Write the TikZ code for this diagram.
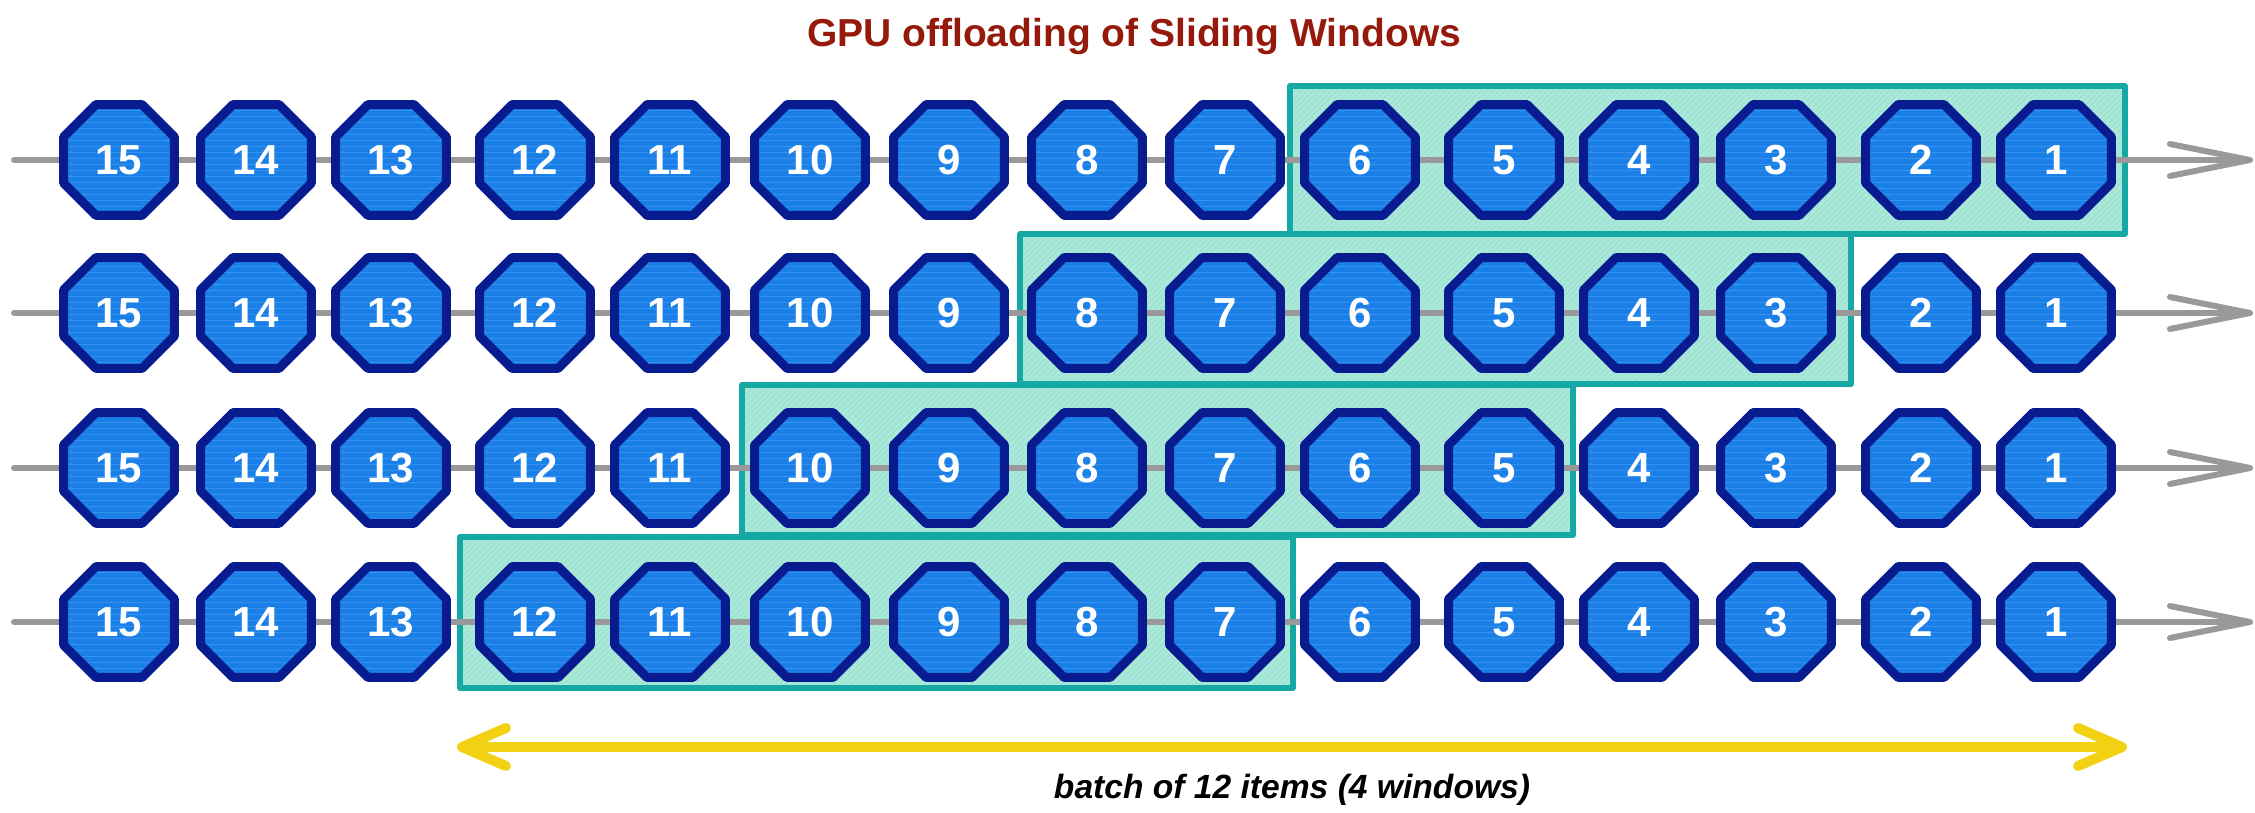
\documentclass[tikz,border=0pt]{standalone}
\usepackage{fontspec}
\setmainfont{Liberation Sans}
\usetikzlibrary{shapes.geometric,arrows.meta,patterns}
\definecolor{octfill}{HTML}{1A80E8}
\definecolor{octstripe}{HTML}{3690EE}
\definecolor{octline}{HTML}{081C8F}
\definecolor{boxfill}{HTML}{A0E4D4}
\definecolor{boxstripe}{HTML}{B9ECE0}
\definecolor{boxline}{HTML}{16A8A5}
\definecolor{axisgray}{HTML}{999999}
\definecolor{titlered}{HTML}{951A0C}
\definecolor{gold}{HTML}{F2D012}
\begin{document}
\begin{tikzpicture}[x=0.5pt,y=-0.5pt,
  item/.style={regular polygon, regular polygon sides=8, minimum size=60pt, inner sep=0pt, outer sep=0pt,
    preaction={fill=octfill}, pattern=horizontal lines, pattern color=octstripe,
    draw=octline, line width=4.5pt, line join=round, text=white,
    font=\fontsize{21pt}{21pt}\selectfont\bfseries},
  window/.style={preaction={fill=boxfill}, pattern=north east lines, pattern color=boxstripe,
    draw=boxline, line width=3pt, line join=round},
  timeline/.style={draw=axisgray, line width=3pt, line cap=round,
    -{Straight Barb[length=40pt,width=16pt,round]}},
  span/.style={draw=gold, line width=5pt,
    {Straight Barb[length=22pt,width=19pt,round]}-{Straight Barb[length=22pt,width=19pt,round]}}]
\useasboundingbox (0,0) rectangle (2255,813);

% sliding windows
\draw[window] (1290,86) rectangle (2125,234);
\draw[window] (1020,234) rectangle (1851,384);
\draw[window] (742,385) rectangle (1573,535);
\draw[window] (460,537) rectangle (1293,688);

% timelines
\foreach \r/\y in {1/160,2/313,3/468,4/622}{
  \coordinate (s\r) at (14,\y);
  \coordinate (e\r) at (2253,\y);
  \draw[timeline] (s\r) -- (e\r);
}

% items
\foreach \r/\y in {1/160,2/313,3/468,4/622}{
  \foreach \n/\x in {15/119,14/256,13/391,12/535,11/670,10/810,9/949,8/1087,7/1225,6/1360,5/1504,4/1639,3/1776,2/1921,1/2056}{
    \node[item] (n\r-\n) at (\x,\y) {\n};
  }
}

% title
\node[font=\fontsize{19.5pt}{20pt}\selectfont\bfseries, text=titlered, anchor=base] (title) at (1134,47) {GPU offloading of Sliding Windows};

% batch span
\coordinate (ya) at (457,747);
\coordinate (yb) at (2127,747);
\draw[span] (ya) -- (yb);
\node[font=\fontsize{16.8pt}{18pt}\selectfont\bfseries\itshape, anchor=base] (caption) at (1292,798) {batch of 12 items (4 windows)};
\end{tikzpicture}
\end{document}
